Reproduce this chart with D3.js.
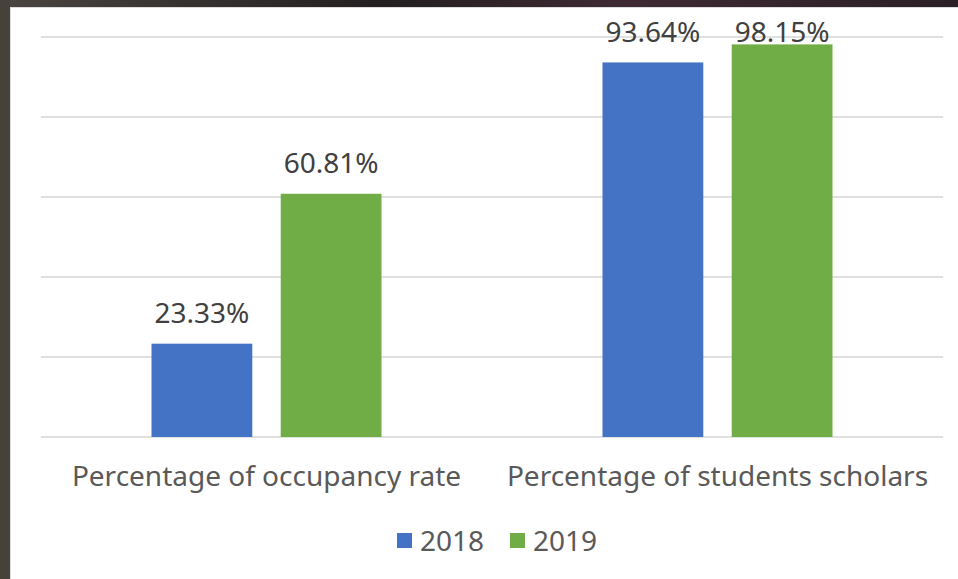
<!DOCTYPE html>
<html>
<head>
<meta charset="utf-8">
<script src="https://cdn.jsdelivr.net/npm/d3@7"></script>
<style>
  html, body { margin: 0; padding: 0; background: #3f3a35; }
  svg { display: block; }
</style>
</head>
<body>
<div id="chart"></div>
<script>
// data
const categories = ["Percentage of occupancy rate", "Percentage of students scholars"];
const seriesNames = ["2018", "2019"];
const values2018 = [0.2333, 0.9364];
const values2019 = [0.6081, 0.9815];
const gridTicks = [0, 0.2, 0.4, 0.6, 0.8, 1.0];
const colors = ["#4472C4", "#70AD47"];

const W = 958, H = 579;
const svg = d3.select("#chart").append("svg")
  .attr("width", W).attr("height", H);

// dark backdrop strip (screenshot edge) + white slide panel
const bg = svg.append("defs").append("linearGradient").attr("id", "topstrip");
bg.append("stop").attr("offset", "0%").attr("stop-color", "#4a4540");
bg.append("stop").attr("offset", "40%").attr("stop-color", "#231f20");
bg.append("stop").attr("offset", "65%").attr("stop-color", "#3f2a33");
bg.append("stop").attr("offset", "100%").attr("stop-color", "#2a2025");
svg.append("rect").attr("x", 0).attr("y", 0).attr("width", W).attr("height", 8).attr("fill", "url(#topstrip)");
svg.append("rect").attr("x", 0).attr("y", 0).attr("width", 10).attr("height", H).attr("fill", "#46413b");
svg.append("rect").attr("x", 10).attr("y", 7).attr("width", W - 10).attr("height", H - 7)
  .attr("fill", "#fff");
svg.append("rect").attr("x", 10.5).attr("y", 7.5).attr("width", W).attr("height", H)
  .attr("fill", "none").attr("stroke", "#dcdcdc").attr("stroke-width", 1);

const plot = { left: 41, right: 943, top: 37, bottom: 437 };

const x0 = d3.scaleBand().domain(categories).range([plot.left, plot.right]).paddingInner(0).paddingOuter(0);
const x1 = d3.scaleBand().domain(seriesNames).range([0, 230]).paddingInner(0.22).paddingOuter(0);
const y = d3.scaleLinear().domain([0, 1]).range([plot.bottom, plot.top]);

// gridlines
svg.append("g").selectAll("line").data(gridTicks).enter().append("line")
  .attr("x1", plot.left).attr("x2", plot.right)
  .attr("y1", d => y(d)).attr("y2", d => y(d))
  .attr("stroke", "#d6d6d6").attr("stroke-width", 1.5);

const rows = categories.map((c, i) => ({ cat: c, vals: [values2018[i], values2019[i]] }));

const grp = svg.append("g").selectAll("g").data(rows).enter().append("g")
  .attr("transform", d => `translate(${x0(d.cat) + (x0.bandwidth() - 230) / 2},0)`);

grp.selectAll("rect").data(d => d.vals.map((v, j) => ({ v, s: seriesNames[j], j })))
  .enter().append("rect")
  .attr("x", d => x1(d.s))
  .attr("y", d => y(d.v))
  .attr("width", x1.bandwidth())
  .attr("height", d => y(0) - y(d.v))
  .attr("fill", d => colors[d.j]);

// data labels (kept inside the chart area like Excel does)
grp.selectAll("text").data(d => d.vals.map((v, j) => ({ v, s: seriesNames[j] })))
  .enter().append("text")
  .attr("x", d => x1(d.s) + x1.bandwidth() / 2)
  .attr("y", d => Math.max(y(d.v) - 21, 42))
  .attr("text-anchor", "middle")
  .attr("font-family", "Noto Sans")
  .attr("font-size", 28)
  .attr("fill", "#404040")
  .text(d => (d.v * 100).toFixed(2) + "%");

// category labels
svg.append("g").selectAll("text").data(categories).enter().append("text")
  .attr("x", d => x0(d) + x0.bandwidth() / 2)
  .attr("y", 486)
  .attr("text-anchor", "middle")
  .attr("font-family", "Noto Sans")
  .attr("font-size", 28)
  .attr("fill", "#595959")
  .text(d => d);

// legend
const legend = svg.append("g");
const legendX = [397, 510];
seriesNames.forEach((s, i) => {
  legend.append("rect").attr("x", legendX[i]).attr("y", 533)
    .attr("width", 15).attr("height", 15).attr("fill", colors[i]);
  legend.append("text").attr("x", legendX[i] + 23).attr("y", 551)
    .attr("font-family", "Noto Sans").attr("font-size", 28).attr("fill", "#595959")
    .text(s);
});
</script>
</body>
</html>
